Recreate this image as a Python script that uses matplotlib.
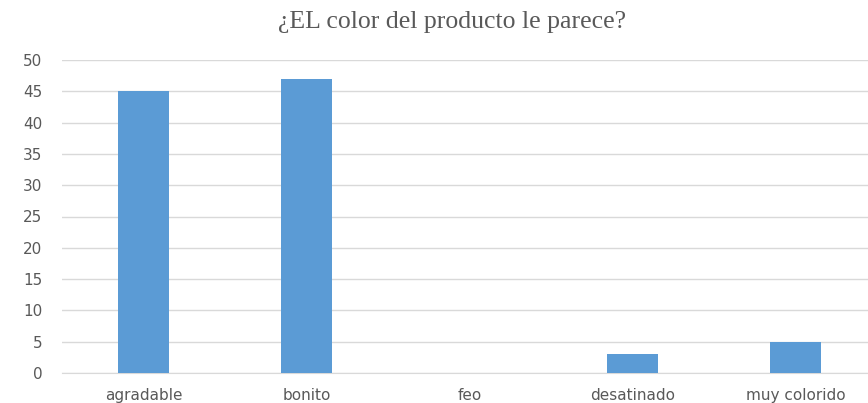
import matplotlib
import matplotlib.pyplot as plt

matplotlib.use('Agg')

# survey answers
categories = ['agradable', 'bonito', 'feo', 'desatinado', 'muy colorido']
counts = [45, 47, 0, 3, 5]
yticks = [0, 5, 10, 15, 20, 25, 30, 35, 40, 45, 50]

fig = plt.figure(figsize=(8.68, 4.03), dpi=100)
W, H = 868, 403
# axes runs a bit past the right edge, like the original crop
ax = fig.add_axes([62 / W, (H - 373) / H, 815 / W, 313 / H])

x = list(range(len(categories)))
ax.bar(x, counts, width=0.315, color='#5B9BD5', zorder=3)

ax.set_xlim(-0.5, len(categories) - 0.5)
ax.set_ylim(0, 50)
ax.set_yticks(yticks)
ax.set_xticks(x)
ax.set_xticklabels(categories)

ax.grid(axis='y', color='#D9D9D9', linewidth=1.0, zorder=0)
for side in ['top', 'right', 'left']:
    ax.spines[side].set_visible(False)
ax.spines['bottom'].set_color('#D9D9D9')
ax.tick_params(axis='both', length=0, colors='#595959', labelsize=11)
ax.tick_params(axis='y', pad=14)
ax.tick_params(axis='x', pad=11)
for lbl in ax.get_xticklabels() + ax.get_yticklabels():
    lbl.set_fontfamily('DejaVu Sans')

fig.text(452 / W, 1 - 22 / H, '¿EL color del producto le parece?',
         ha='center', va='center', fontsize=18.5,
         family='Liberation Serif', color='#595959')

fig.savefig('out.png', dpi=100)
